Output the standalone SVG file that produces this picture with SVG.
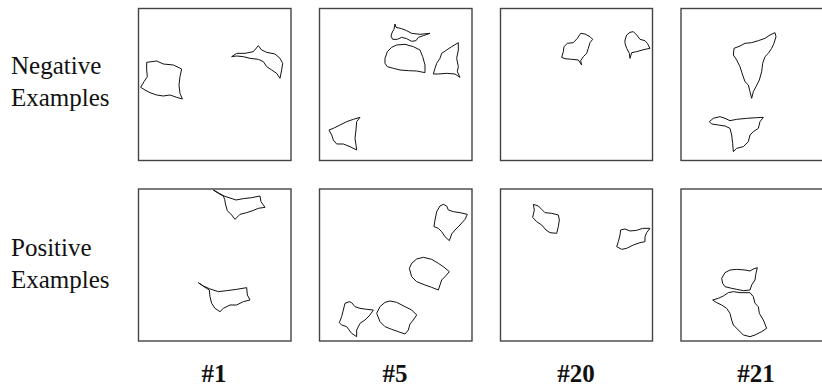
<svg xmlns="http://www.w3.org/2000/svg" width="822" height="388" viewBox="0 0 822 388">
<style>
.lbl{font-family:"Liberation Serif","Times New Roman",serif;font-size:25px;fill:#111}
.num{font-family:"Liberation Serif","Times New Roman",serif;font-size:25px;font-weight:bold;fill:#111;text-anchor:middle}
.box{fill:#fff;stroke:#444;stroke-width:1.4}
.s{fill:none;stroke:#111;stroke-width:3;stroke-linejoin:round}
</style>
<rect width="822" height="388" fill="#fff"/>
<g id="labels">
<text class="lbl" x="11" y="74">Negative</text>
<text class="lbl" x="11" y="106">Examples</text>
<text class="lbl" x="11" y="256">Positive</text>
<text class="lbl" x="11" y="288">Examples</text>
<text class="num" x="214" y="382">#1</text>
<text class="num" x="395" y="382">#5</text>
<text class="num" x="576" y="382">#20</text>
<text class="num" x="756" y="382">#21</text>
</g>
<g id="neg1">
<rect class="box" x="138.5" y="8.5" width="152.5" height="152"/>
<g transform="translate(130,0) scale(0.33333)">
<polygon class="s" points="50,187 80,183 100,192 130,195 155,207 150,230 147,255 150,280 157,297 140,292 120,285 100,288 80,285 60,278 45,270 32,262 42,245 52,230 50,210"/>
<polygon class="s" points="305,170 320,160 345,160 370,155 385,137 395,150 410,157 435,162 450,175 458,190 455,210 450,235 440,220 425,210 410,200 400,185 385,178 360,175 340,170 320,168"/>
</g>
</g>
<g id="neg5">
<rect class="box" x="319.5" y="8.5" width="152.5" height="152"/>
<g transform="translate(310,0) scale(0.33333)">
<polygon class="s" points="255,72 258,82 275,86 290,92 305,100 330,103 360,100 340,107 325,112 318,122 305,124 290,116 275,112 262,118 248,118 243,108 247,96 252,88"/>
<polygon class="s" points="225,175 232,155 245,142 260,135 285,133 310,140 330,150 338,170 345,195 345,218 320,213 295,212 270,210 250,205 232,200 225,190"/>
<polygon class="s" points="445,128 445,150 440,175 445,200 442,215 450,232 435,222 410,220 385,222 370,222 375,205 380,190 390,175 395,160 410,150 425,140"/>
<polygon class="s" points="150,352 140,365 138,390 135,415 138,435 140,450 120,440 100,432 80,432 70,420 65,405 57,390 70,385 90,375 110,365 130,358"/>
</g>
</g>
<g id="neg20">
<rect class="box" x="500.5" y="8.5" width="152" height="152"/>
<g transform="translate(490,0) scale(0.33333)">
<polygon class="s" points="215,172 220,155 222,140 232,130 250,128 262,115 272,100 285,102 300,110 308,118 300,128 295,145 290,160 280,170 272,182 275,195 265,180 245,178 225,176"/>
<polygon class="s" points="405,120 410,105 420,97 430,95 440,105 450,118 465,122 472,130 480,145 465,148 450,152 440,155 425,158 420,175 418,160 410,145 405,130"/>
</g>
</g>
<g id="neg21">
<rect class="box" x="681" y="8.5" width="152" height="152"/>
<g transform="translate(670,0) scale(0.33333)">
<polygon class="s" points="192,145 210,138 225,130 245,128 265,122 285,115 300,105 315,98 318,110 312,130 305,145 295,160 285,170 278,190 275,215 268,240 258,260 250,275 245,295 240,275 235,255 225,245 218,225 210,200 200,180 190,165"/>
<polygon class="s" points="118,365 130,355 150,350 165,355 180,362 200,358 230,355 260,353 280,352 270,365 265,385 250,395 240,405 235,425 220,440 200,445 190,455 188,430 185,405 180,385 165,378 145,375 125,372"/>
</g>
</g>
<g id="pos1">
<rect class="box" x="138.5" y="189" width="152.5" height="152"/>
<g transform="translate(130,170) scale(0.33333)">
<polygon class="s" points="250,60 268,70 282,78 300,84 318,90 340,86 365,83 390,78 393,95 405,112 385,115 368,122 350,128 330,133 315,148 305,135 292,122 287,105 284,88 280,78 265,70"/>
<polygon class="s" points="205,338 220,348 238,356 265,365 290,362 320,358 350,353 352,375 360,390 340,395 320,405 300,405 280,415 270,425 255,415 245,400 240,380 238,360 222,350"/>
</g>
</g>
<g id="pos5">
<rect class="box" x="319.5" y="189" width="152.5" height="152"/>
<g transform="translate(310,170) scale(0.33333)">
<polygon class="s" points="380,125 390,108 400,103 410,108 415,120 430,125 450,128 472,133 465,148 450,165 435,180 425,192 418,212 405,200 395,185 385,175 372,170 375,150"/>
<polygon class="s" points="298,295 305,280 320,267 340,262 365,268 385,280 400,290 418,305 405,320 395,330 390,345 385,360 365,352 345,345 320,335 305,320"/>
<polygon class="s" points="88,458 95,440 100,420 105,400 118,395 125,398 135,410 150,415 170,418 190,420 180,435 165,450 150,460 140,480 140,500 125,490 110,470 95,465"/>
<polygon class="s" points="200,430 210,410 225,397 240,393 260,397 285,410 305,420 320,435 310,450 300,462 295,480 285,492 265,485 245,478 225,470 210,455"/>
</g>
</g>
<g id="pos20">
<rect class="box" x="500.5" y="189" width="152" height="152"/>
<g transform="translate(490,170) scale(0.33333)">
<polygon class="s" points="130,103 145,108 155,118 165,128 185,130 205,135 208,150 205,170 200,190 180,188 168,180 155,165 140,155 128,142 133,120"/>
<polygon class="s" points="392,180 405,177 420,183 440,181 458,175 480,175 470,188 465,200 465,215 450,218 430,225 410,235 395,238 380,230 385,215 390,195"/>
</g>
</g>
<g id="pos21">
<rect class="box" x="681" y="189" width="152" height="152"/>
<g transform="translate(670,170) scale(0.33333)">
<polygon class="s" points="165,308 180,300 200,298 225,300 240,303 250,297 262,293 258,310 255,330 245,345 240,360 220,362 200,358 185,355 165,350 158,340 155,325"/>
<polygon class="s" points="128,390 145,385 160,378 175,368 190,365 210,368 240,368 250,380 255,400 265,410 268,430 280,450 290,475 275,485 255,495 240,500 220,495 205,480 190,465 185,450 180,430 170,415 155,405 140,398"/>
</g>
</g>
</svg>
